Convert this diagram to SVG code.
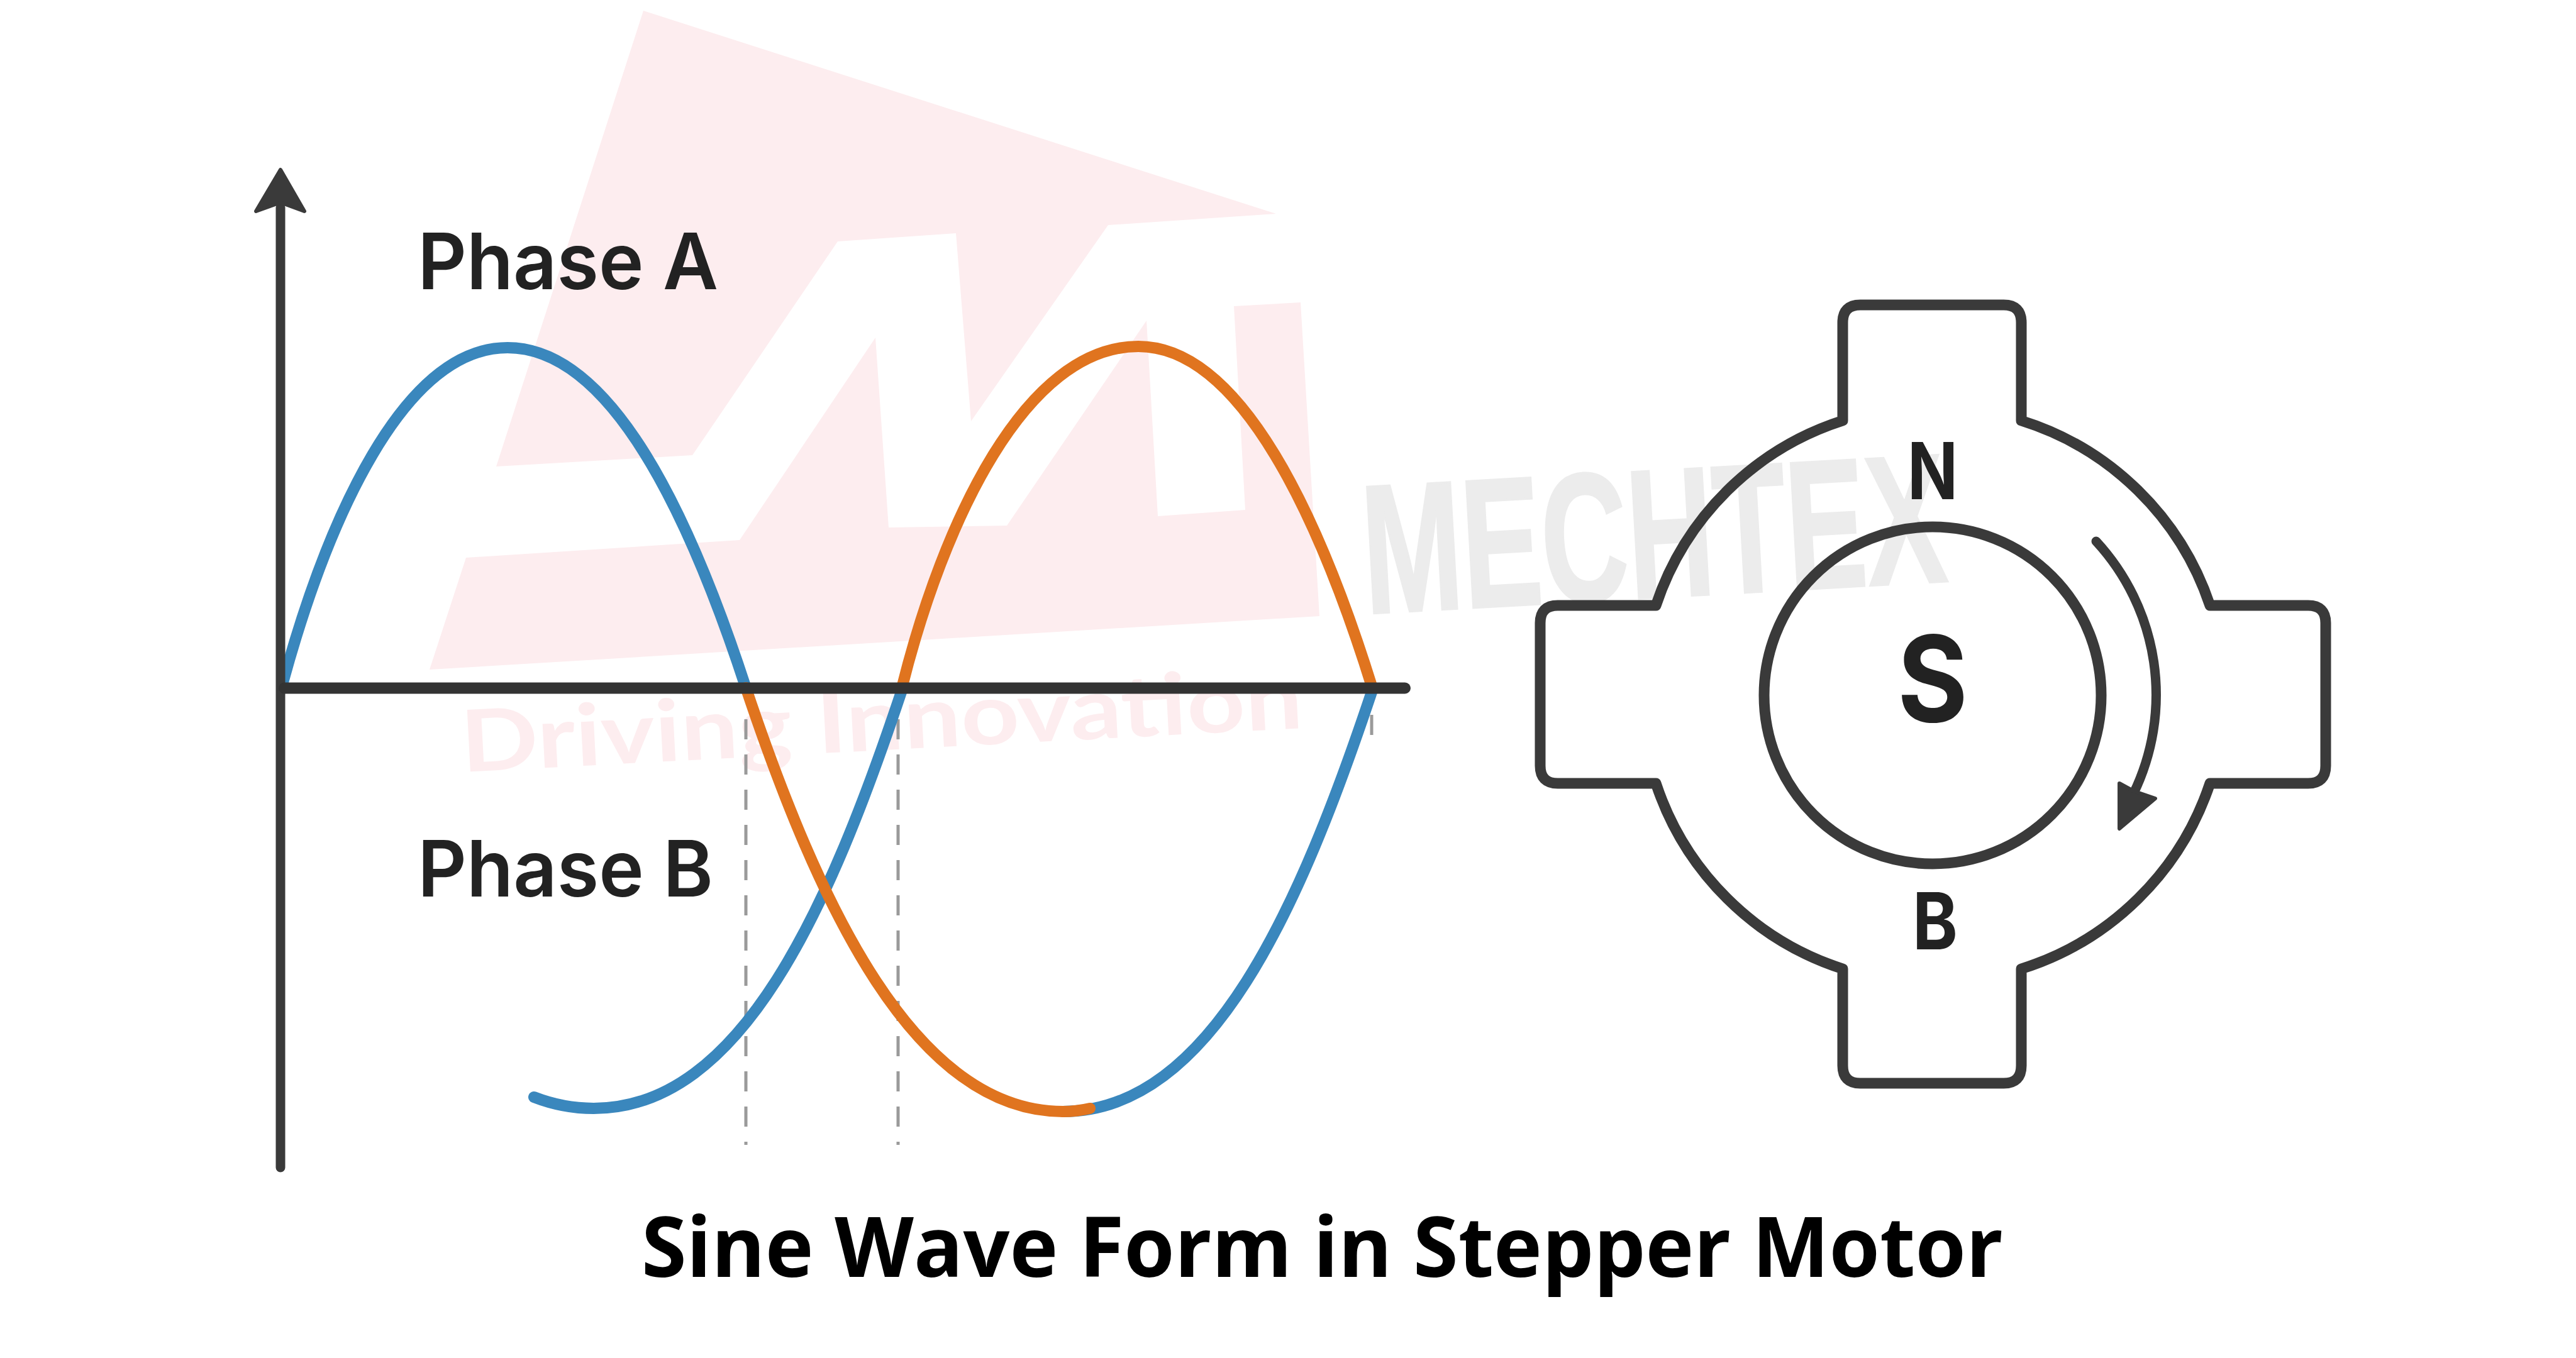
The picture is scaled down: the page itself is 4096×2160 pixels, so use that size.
<svg xmlns="http://www.w3.org/2000/svg" width="4096" height="2160" viewBox="0 0 4096 2160">
<style>
.wm{fill:#fdedef}
.ax{fill:none;stroke:#3a3a3a;stroke-width:15;stroke-linecap:round}
.blue{fill:none;stroke:#3a87bd;stroke-width:18;stroke-linecap:round}
.orange{fill:none;stroke:#e0741f;stroke-width:18;stroke-linecap:round}
.dash{fill:none;stroke:#9a9a9a;stroke-width:5;stroke-dasharray:32 24}
.mot{fill:none;stroke:#3a3a3a;stroke-width:17;stroke-linejoin:round;stroke-linecap:round}
.lab{font-family:Inter,"Liberation Sans",sans-serif;font-weight:600;fill:#222}
.pole{font-family:Inter,"Liberation Sans",sans-serif;font-weight:700;fill:#222;text-anchor:middle}
</style>
<rect width="4096" height="2160" fill="#fff"/>
<g id="watermark">
<polygon class="wm" points="1023,17 2029,340 1762,358 1544,670 1520,371 1332,384 1101,724 789,742"/>
<polygon class="wm" points="741,887 1176,859 1392,537 1413,839 1601,836 1823,510 1841,821 1980,811 1962,487 2068,481 2098,980 683,1065"/>
<text transform="translate(735,1228) rotate(-3)" font-family="Lato,sans-serif" font-weight="700" font-size="136" fill="#fdedef" textLength="1340" lengthAdjust="spacingAndGlyphs">Driving Innovation</text>
<text transform="translate(2172,976) rotate(-3.2)" font-family="'Liberation Sans',sans-serif" font-weight="700" font-size="292" fill="#ececec" stroke="#ececec" stroke-width="4" textLength="928" lengthAdjust="spacingAndGlyphs">MECHTEX</text>
</g>
<g id="connectors">
<path class="dash" d="M1186 1144V1821"/>
<path class="dash" d="M1428 1144V1821"/>
<path class="dash" d="M2181 1137V1172"/>
<path class="blue" d="M450 1085C520 830 640 553 807 553C975 553 1100 830 1186 1094"/>
<path class="orange" d="M1434 1094C1500 830 1630 551 1810 551C1975 551 2100 830 2182 1094"/>
<path class="blue" d="M1690 1768C1926 1768 2068 1440 2182 1098"/>
<path class="blue" d="M849 1745C880 1757 910 1763 944 1763C1180 1763 1320 1440 1434 1098"/>
<path class="orange" d="M1186 1094C1302 1440 1454 1768 1690 1768C1705 1768 1720 1766 1733 1763" stroke-linecap="butt"/>
<path class="ax" d="M446 1857V330"/>
<polygon points="446,270 484,336 446,322 407,336" fill="#3a3a3a" stroke="#3a3a3a" stroke-width="6" stroke-linejoin="round"/>
<path class="ax" d="M452 1094.500H2234" style="stroke-width:18;stroke:#333"/>
</g>
<g id="phase-a"><text class="lab" x="664" y="460" font-size="124" textLength="478" lengthAdjust="spacingAndGlyphs">Phase A</text></g>
<g id="phase-b"><text class="lab" x="664" y="1426" font-size="124" textLength="470" lengthAdjust="spacingAndGlyphs">Phase B</text></g>
<g id="stator">
<path class="mot" d="M2930 669V513Q2930 485 2958 485H3186Q3214 485 3214 513V669A462 462 0 0 1 3514 963H3670Q3698 963 3698 991V1218Q3698 1246 3670 1246H3514A462 462 0 0 1 3214 1541V1695Q3214 1723 3186 1723H2958Q2930 1723 2930 1695V1541A462 462 0 0 1 2633 1246H2477Q2449 1246 2449 1218V991Q2449 963 2477 963H2633A462 462 0 0 1 2930 669Z"/>
</g>
<g id="rotor"><circle class="mot" cx="3073" cy="1106" r="268"/>
<text class="pole" x="3073" y="1148" font-size="190" textLength="112" lengthAdjust="spacingAndGlyphs">S</text></g>
<g id="pole-n"><text class="pole" x="3073" y="794" font-size="125" textLength="80" lengthAdjust="spacingAndGlyphs">N</text></g>
<g id="pole-b"><text class="pole" x="3077" y="1510" font-size="125" textLength="72" lengthAdjust="spacingAndGlyphs">B</text></g>
<g id="rotation">
<path class="mot" d="M3333 861A360 360 0 0 1 3392 1263" style="stroke-width:15"/>
<polygon points="3370,1318 3370,1246 3392,1258 3427,1270" fill="#3a3a3a" stroke="#3a3a3a" stroke-width="6" stroke-linejoin="round"/>
</g>
<g id="title"><text x="1020" y="2031" font-family="'Open Sans',sans-serif" font-weight="700" font-size="132" fill="#000" textLength="2165" lengthAdjust="spacingAndGlyphs">Sine Wave Form in Stepper Motor</text></g>
</svg>
